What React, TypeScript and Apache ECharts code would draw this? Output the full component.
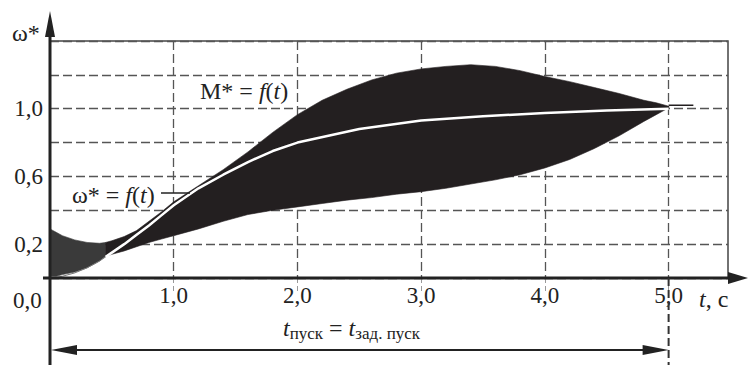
import React, { useEffect, useRef } from 'react';
import * as echarts from 'echarts';

// M* = f(t) : envelope of the oscillating torque band
const tBand = [0, 0.05, 0.1, 0.2, 0.3, 0.4, 0.45, 0.5, 0.6, 0.7, 0.8, 0.9, 1.0, 1.2, 1.4, 1.6, 1.8, 2.0, 2.2, 2.4, 2.6, 2.8, 3.0, 3.2, 3.4, 3.6, 3.8, 4.0, 4.2, 4.4, 4.6, 4.8, 4.9, 5.0];
const mUpper = [0.29, 0.27, 0.25, 0.225, 0.21, 0.205, 0.21, 0.22, 0.245, 0.28, 0.335, 0.39, 0.45, 0.545, 0.64, 0.745, 0.86, 0.965, 1.05, 1.115, 1.17, 1.21, 1.235, 1.25, 1.26, 1.25, 1.225, 1.19, 1.16, 1.125, 1.09, 1.05, 1.035, 1.015];
const mLower = [0.01, 0.01, 0.02, 0.035, 0.06, 0.1, 0.13, 0.14, 0.16, 0.185, 0.21, 0.23, 0.25, 0.29, 0.335, 0.375, 0.4, 0.42, 0.44, 0.46, 0.475, 0.495, 0.51, 0.53, 0.555, 0.58, 0.61, 0.65, 0.7, 0.765, 0.84, 0.925, 0.965, 1.005];

// omega* = f(t)
const tOmega = [0, 0.1, 0.2, 0.3, 0.4, 0.45, 0.5, 0.6, 0.7, 0.8, 0.9, 1.0, 1.2, 1.4, 1.6, 1.8, 2.0, 2.5, 3.0, 3.5, 4.0, 4.5, 5.0];
const omega = [0, 0.01, 0.03, 0.06, 0.1, 0.125, 0.15, 0.2, 0.255, 0.31, 0.37, 0.43, 0.53, 0.61, 0.685, 0.75, 0.8, 0.88, 0.93, 0.955, 0.975, 0.99, 1.0];

// steady state after start
const tTail = [5.0, 5.2];
const mTail = [1.02, 1.02];

const xTickValues = [1, 2, 3, 4, 5];
const yLabelValues = [0.2, 0.6, 1.0];
const NECK_T = 0.45;

const FONT = 'Liberation Serif, serif';
const fmt = (v: number) => v.toFixed(1).replace('.', ',');

function bandSeries(rows: number[][], color: string, z: number) {
  return {
    type: 'custom',
    z,
    data: rows,
    encode: { x: 0, y: [1, 2] },
    renderItem: (params: any, api: any) => {
      if (params.dataIndex !== 0) return null;
      const top = rows.map((r) => api.coord([r[0], r[2]]));
      const bottom = rows.slice().reverse().map((r) => api.coord([r[0], r[1]]));
      return {
        type: 'polygon',
        shape: { points: top.concat(bottom) },
        style: { fill: color, stroke: color, lineWidth: 0.6 },
      };
    },
  };
}

export default function App() {
  const ref = useRef<HTMLDivElement>(null);
  useEffect(() => {
    const chart = echarts.init(ref.current!, null, { renderer: 'svg' });
    const rows = tBand.map((t, i) => [t, mLower[i], mUpper[i]]);
    const early = rows.filter((r) => r[0] <= NECK_T);
    const main = rows.filter((r) => r[0] >= NECK_T);
    const om = tOmega.map((t, i) => [t, omega[i]]);

    const dash = { type: [9, 4] as any, color: '#555', width: 1.3 };

    chart.setOption({
      animation: false,
      grid: {
        left: 50, right: 20, top: 41, bottom: 87,
        show: true, borderColor: '#444', borderWidth: 1.5,
      },
      xAxis: {
        type: 'value', min: 0, max: 5.48, interval: 1,
        axisLine: { show: false },
        axisTick: { show: true, customValues: xTickValues, length: 14, lineStyle: { type: [5, 3] as any, color: '#999', width: 1 } },
        axisLabel: {
          customValues: xTickValues, formatter: (v: number) => fmt(v), margin: 6,
          fontFamily: FONT, fontSize: 23, color: '#222',
        },
        splitLine: { show: true, lineStyle: dash },
      },
      yAxis: {
        type: 'value', min: 0, max: 1.4, interval: 0.2,
        axisLine: { show: false },
        axisTick: { show: false },
        axisLabel: {
          customValues: yLabelValues, formatter: (v: number) => fmt(v), margin: 7,
          fontFamily: FONT, fontSize: 23, color: '#222',
        },
        splitLine: { show: true, lineStyle: dash },
      },
      series: [
        bandSeries(early, '#3a3a3a', 2),
        bandSeries(main, '#231f20', 3),
        { type: 'line', z: 4, symbol: 'none', data: om.filter((p) => p[0] <= 0.5), lineStyle: { width: 1, color: '#777' } },
        { type: 'line', z: 5, symbol: 'none', data: om.filter((p) => p[0] >= NECK_T), lineStyle: { width: 2.5, color: '#fff' } },
        { type: 'line', z: 5, symbol: 'none', data: tTail.map((t, i) => [t, mTail[i]]), lineStyle: { width: 1.5, color: '#231f20' } },
      ],
    });

    const P = (t: number, v: number) => chart.convertToPixel({ gridIndex: 0 }, [t, v]) as number[];
    const [x0, y0] = P(0, 0);
    const [x5] = P(5, 0);
    const H = 365;
    const yDim = 350;
    const txt = (x: number, y: number, text: string, extra: any = {}) => ({
      type: 'text', x, y, z: 100,
      style: { text, fontFamily: FONT, fontSize: 24, fill: '#222', verticalAlign: 'middle', align: 'left', ...extra },
    });
    const rich = {
      n: { fontFamily: FONT, fontSize: 24, fill: '#222', lineHeight: 28 },
      i: { fontFamily: FONT, fontSize: 24, fontStyle: 'italic', fill: '#222', lineHeight: 28 },
      s: { fontFamily: FONT, fontSize: 17, fill: '#222', lineHeight: 12, verticalAlign: 'bottom' },
    };
    const rtxt = (x: number, y: number, text: string) => ({
      type: 'text', x, y, z: 100, style: { text, rich, verticalAlign: 'middle', align: 'left' },
    });

    chart.setOption({
      graphic: [
        { type: 'line', z: 100, shape: { x1: x0, y1: H, x2: x0, y2: 30 }, style: { stroke: '#222', lineWidth: 3 } },
        { type: 'polygon', z: 100, shape: { points: [[x0 - 5, 37], [x0, 11], [x0 + 5, 37]] }, style: { fill: '#222' } },
        { type: 'line', z: 100, shape: { x1: x0 - 7, y1: y0, x2: 735, y2: y0 }, style: { stroke: '#222', lineWidth: 3 } },
        { type: 'polygon', z: 100, shape: { points: [[728, y0 - 6], [748, y0], [728, y0 + 6]] }, style: { fill: '#222' } },
        { type: 'line', z: 100, shape: { x1: x5, y1: y0, x2: x5, y2: H }, style: { stroke: '#333', lineWidth: 2, lineDash: [8, 4] } },
        { type: 'line', z: 100, shape: { x1: x0 + 20, y1: yDim, x2: x5 - 20, y2: yDim }, style: { stroke: '#222', lineWidth: 2 } },
        { type: 'polygon', z: 100, shape: { points: [[x0 + 1, yDim], [x0 + 27, yDim - 5], [x0 + 27, yDim + 5]] }, style: { fill: '#222' } },
        { type: 'polygon', z: 100, shape: { points: [[x5, yDim], [x5 - 26, yDim - 5], [x5 - 26, yDim + 5]] }, style: { fill: '#222' } },
        txt(12, 33, 'ω*'),
        txt(13, 300, '0,0', { fontSize: 23 }),
        rtxt(699, 299, '{i|t}{n|, c}'),
        rtxt(200, 91, '{n|M* = }{i|f}{n|(}{i|t}{n|)}'),
        rtxt(72, 195, '{n|ω* = }{i|f}{n|(}{i|t}{n|)}'),
        { type: 'line', z: 100, shape: { x1: 161, y1: 193, x2: 190, y2: 193 }, style: { stroke: '#222', lineWidth: 1.5 } },
        rtxt(283, 328, '{i|t}{s|пуск}{n| = }{i|t}{s|зад. пуск}'),
      ],
    });

    return () => chart.dispose();
  }, []);
  return <div ref={ref} style={{ width: 748, height: 365, position: 'absolute', left: 0, top: 0, background: '#fff' }} />;
}
